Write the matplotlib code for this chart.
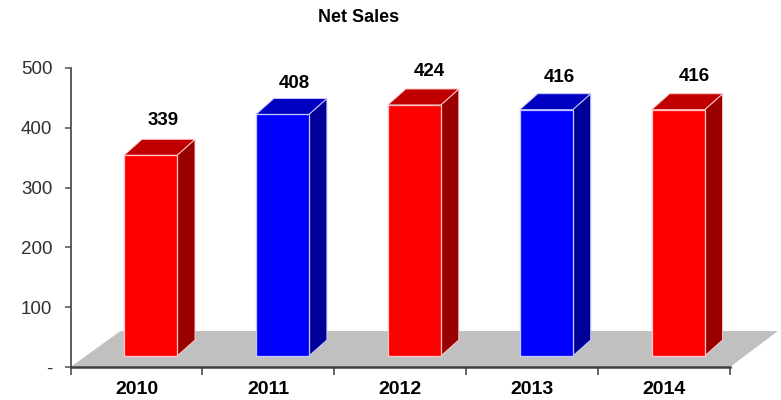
from matplotlib import pyplot as plt
from matplotlib.patches import Polygon

years = ['2010', '2011', '2012', '2013', '2014']
sales = [339, 408, 424, 416, 416]
face = ['#ff0000', '#0000ff', '#ff0000', '#0000ff', '#ff0000']
side = ['#990000', '#000099', '#990000', '#000099', '#990000']
top = ['#c00000', '#0000c0', '#c00000', '#0000c0', '#c00000']
y_ticks = [0, 100, 200, 300, 400, 500]
y_labels = ['-', '100', '200', '300', '400', '500']

plt.rcParams['font.family'] = ['Liberation Sans', 'DejaVu Sans']

W, H = 781, 400
fig = plt.figure(figsize=(W / 100, H / 100), dpi=100)
# axes box in pixels: x 70.5-730, y 68-367
ax = fig.add_axes([70.5 / W, (H - 367) / H, 659.5 / W, 299 / H])
ax.set_xlim(0, 5)
ax.set_ylim(0, 500)

# 3d look: depth and base offset in data units
px_x = 5 / 659.5
px_y = 500 / 299
dx = 18 * px_x
dy = 16 * px_y
base = 11 * px_y
left = 53.5 * px_x
width = 53 * px_x
shrink = 0.99  # bars come out a touch shorter than the axis scale in the original

# floor
ax.add_patch(Polygon([(0, 0), (5, 0), (5 + 48 * px_x, 36 * px_y), (50 * px_x, 36 * px_y)],
                     closed=True, fc='#c0c0c0', ec='none', clip_on=False, zorder=1))

for i, v in enumerate(sales):
    x0 = i + left
    x1 = x0 + width
    y1 = base + v * shrink
    edge = '#ffc8c8' if face[i] == '#ff0000' else '#c8c8ff'
    ax.add_patch(Polygon([(x1, base), (x1 + dx, base + dy), (x1 + dx, y1 + dy), (x1, y1)],
                         closed=True, fc=side[i], ec=edge, lw=0.7, zorder=3, clip_on=False))
    ax.add_patch(Polygon([(x0, y1), (x1, y1), (x1 + dx, y1 + dy), (x0 + dx, y1 + dy)],
                         closed=True, fc=top[i], ec=edge, lw=0.7, zorder=3, clip_on=False))
    ax.add_patch(Polygon([(x0, base), (x1, base), (x1, y1), (x0, y1)],
                         closed=True, fc=face[i], ec=edge, lw=0.9, zorder=4, clip_on=False))

    # value labels sit a bit uneven in the original
    ax.annotate(str(v), (x0 + width / 2, y1),
                xytext=([13, 12, 15, 13, 16][i] * 0.72, [35, 31, 33, 32, 33][i] * 0.72),
                textcoords='offset points', ha='center', va='center',
                fontsize=13.5, fontweight='bold', color='black', zorder=5)

for s in ['top', 'right']:
    ax.spines[s].set_visible(False)
ax.spines['left'].set_color('#505050')
ax.spines['left'].set_linewidth(1.3)
ax.spines['bottom'].set_color('#404040')
ax.spines['bottom'].set_linewidth(1.8)
ax.spines['bottom'].set_zorder(6)

ax.set_yticks(y_ticks)
ax.set_yticklabels(y_labels, fontsize=13.5, color='#303030')
ax.set_xticks(range(6))
ax.set_xticklabels([])
ax.tick_params(axis='y', length=4, width=1.1, color='#505050', pad=9)
ax.tick_params(axis='x', length=6, width=1.1, color='#404040')

for i, yr in enumerate(years):
    ax.text(i + 0.5, -22.5 * px_y, yr, ha='center', va='center',
            fontsize=14, fontweight='bold', color='black', clip_on=False)

fig.text(358.5 / W, (H - 17) / H, 'Net Sales', ha='center', va='center',
         fontsize=13, fontweight='bold', color='black')

fig.savefig('out.png', dpi=100)
